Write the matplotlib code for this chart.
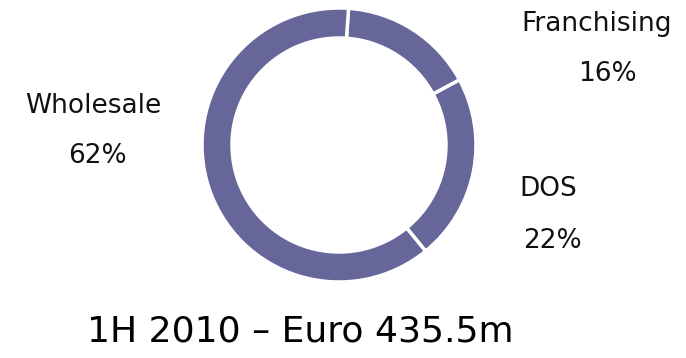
import matplotlib

matplotlib.use("Agg")
import matplotlib.pyplot as plt

SEGMENTS = ["Franchising", "DOS", "Wholesale"]
SHARES = [16, 22, 62]
TITLE = "1H 2010 \u2013 Euro 435.5m"

RING_COLOR = "#66669a"
W, H = 686, 358

plt.rcParams["font.family"] = ["DejaVu Sans"]

fig = plt.figure(figsize=(W / 100, H / 100), dpi=100)
ax = fig.add_axes([0, 0, 1, 1])

ax.pie(
    SHARES,
    colors=[RING_COLOR] * len(SHARES),
    startangle=86,
    counterclock=False,
    radius=137,
    center=(339, H - 145),
    wedgeprops={"width": 30, "edgecolor": "white", "linewidth": 2.5},
    frame=True,
)
ax.set_xlim(0, W)
ax.set_ylim(0, H)
ax.set_aspect("equal")
ax.axis("off")

# label positions in pixels from the top-left corner
name_pos = {"Franchising": (597, 24), "DOS": (548, 189), "Wholesale": (93, 106)}
pct_pos = {"Franchising": (607, 74), "DOS": (552, 241), "Wholesale": (97, 156)}
for name, share in zip(SEGMENTS, SHARES):
    x, y = name_pos[name]
    ax.text(x, H - y, name, ha="center", va="center", fontsize=19, color="#111111")
    x, y = pct_pos[name]
    ax.text(x, H - y, f"{share}%", ha="center", va="center", fontsize=19, color="#111111")

ax.text(300, H - 331, TITLE, ha="center", va="center", fontsize=26, color="#000000")

fig.savefig("out.png", dpi=100)
